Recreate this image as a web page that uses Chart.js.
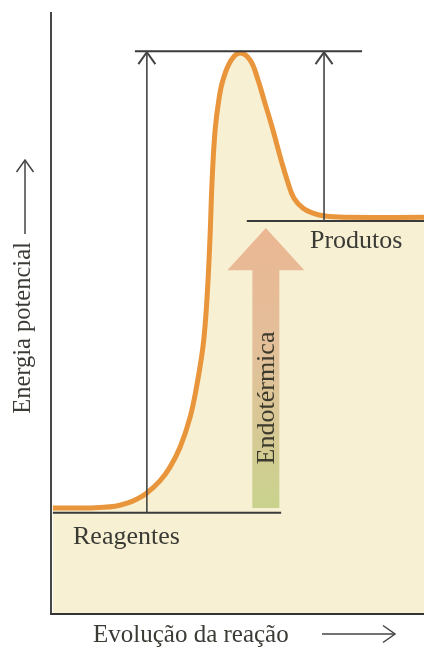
<!DOCTYPE html>
<html lang="pt">
<head>
<meta charset="utf-8">
<title>Energia potencial</title>
<script src="https://cdn.jsdelivr.net/npm/chart.js@4.4.1/dist/chart.umd.min.js"></script>
<style>
  html, body { margin: 0; padding: 0; background: #fff; }
  canvas { display: block; }
</style>
</head>
<body>
<canvas id="my-chart" width="424" height="648"></canvas>
<script>
'use strict';

// ***************** DATA ***************** //

// reaction progress (0-100) and potential energy (0-100)
let progress = [0.5, 7.8, 13.1, 17.2, 20.4, 23.1, 25.7, 29.2, 31.9, 34.6, 37.3, 39.1, 40.8, 41.8, 42.6, 43.2, 44.0, 45.0, 46.1, 48.3, 50.7, 53.4, 55.5, 57.1, 59.5, 61.7, 63.3, 65.1, 67.6, 70.2, 73.5, 78.8, 100];
let energy = [17.6, 17.6, 17.7, 17.9, 18.4, 19.1, 20.1, 22.1, 24.4, 27.7, 32.7, 38.0, 44.7, 52.2, 62.1, 72.1, 80.4, 85.4, 88.7, 92.0, 93.2, 92.0, 88.7, 85.4, 80.4, 75.4, 72.1, 69.1, 67.4, 66.6, 66.1, 65.9, 65.9];

// energy levels: reagentes, produtos, complexo ativado
let levelValues = [16.8, 65.3, 93.5];
let levelStarts = [0.5, 52.5, 22.5];
let levelEnds = [61.7, 100, 83.4];

// activation arrows (x position, from level index to level index)
let arrowX = [25.7, 73.2];
let arrowFrom = [0, 1];
let arrowTo = [2, 2];

// endothermic arrow
let endoX = 57.6;
let endoBottom = 17.6;
let endoHeadBase = 57.1;
let endoTop = 64.1;

let labels = ['Reagentes', 'Produtos', 'Endotérmica'];
let axisTitles = ['Energia potencial', 'Evolução da reação'];

// ***************** DOM REFERENCES ************** //

let ctx = document.getElementById('my-chart').getContext('2d');

// ***************** HELPERS ***************** //

const SERIF = '"Liberation Serif", "DejaVu Serif", serif';
const INK = '#3b3b36';

function chevronUp(c, px, py) {
  c.beginPath();
  c.moveTo(px - 8.5, py + 12);
  c.lineTo(px, py);
  c.lineTo(px + 8.5, py + 12);
  c.stroke();
}

function chevronRight(c, px, py) {
  c.beginPath();
  c.moveTo(px - 12, py - 8.5);
  c.lineTo(px, py);
  c.lineTo(px - 12, py + 8.5);
  c.stroke();
}

// ***************** PLUGIN ***************** //

let annotations = {
  id: 'annotations',
  afterDatasetsDraw(chart) {
    let c = chart.ctx;
    let xs = chart.scales.x;
    let ys = chart.scales.y;
    let area = chart.chartArea;

    c.save();
    c.lineCap = 'butt';

    // endothermic arrow
    let cx = xs.getPixelForValue(endoX);
    let yb = ys.getPixelForValue(endoBottom);
    let yh = ys.getPixelForValue(endoHeadBase);
    let yt = ys.getPixelForValue(endoTop);
    let grad = c.createLinearGradient(0, yt, 0, yb);
    grad.addColorStop(0, '#ebb793');
    grad.addColorStop(0.45, '#e2c09a');
    grad.addColorStop(0.75, '#d6ca94');
    grad.addColorStop(1, '#c8d38d');
    c.fillStyle = grad;
    c.beginPath();
    c.moveTo(cx - 13.5, yb);
    c.lineTo(cx - 13.5, yh);
    c.lineTo(cx - 38.5, yh);
    c.lineTo(cx, yt);
    c.lineTo(cx + 38.5, yh);
    c.lineTo(cx + 13.5, yh);
    c.lineTo(cx + 13.5, yb);
    c.closePath();
    c.fill();

    // energy level lines
    c.strokeStyle = '#3a3a3a';
    c.lineWidth = 2;
    for (let i = 0; i < levelValues.length; i++) {
      let py = ys.getPixelForValue(levelValues[i]);
      c.beginPath();
      c.moveTo(xs.getPixelForValue(levelStarts[i]), py);
      c.lineTo(xs.getPixelForValue(levelEnds[i]), py);
      c.stroke();
    }

    // activation arrows
    c.strokeStyle = '#454545';
    for (let i = 0; i < arrowX.length; i++) {
      let px = xs.getPixelForValue(arrowX[i]);
      let y0 = ys.getPixelForValue(levelValues[arrowFrom[i]]);
      let y1 = ys.getPixelForValue(levelValues[arrowTo[i]]) + 1;
      c.lineWidth = 1.6;
      c.beginPath();
      c.moveTo(px, y0);
      c.lineTo(px, y1);
      c.stroke();
      c.lineWidth = 2;
      chevronUp(c, px, y1);
    }

    // axes
    c.strokeStyle = '#333';
    c.lineWidth = 1.8;
    c.beginPath();
    c.moveTo(area.left, area.top);
    c.lineTo(area.left, area.bottom);
    c.lineTo(area.right, area.bottom);
    c.stroke();

    // labels
    c.fillStyle = INK;
    c.font = '26px ' + SERIF;
    c.textAlign = 'left';
    c.textBaseline = 'alphabetic';
    c.fillText(labels[0], 73, 544);
    c.fillText(labels[1], 310, 248);

    c.save();
    c.translate(cx + 1, 398);
    c.rotate(-Math.PI / 2);
    c.textAlign = 'center';
    c.textBaseline = 'middle';
    c.fillStyle = '#3c3a2c';
    c.fillText(labels[2], 0, 0);
    c.restore();

    // y axis title with arrow
    c.save();
    c.translate(24, 328);
    c.rotate(-Math.PI / 2);
    c.font = '24.5px ' + SERIF;
    c.textAlign = 'center';
    c.textBaseline = 'middle';
    c.fillText(axisTitles[0], 0, 0);
    c.restore();
    c.strokeStyle = '#444';
    c.lineWidth = 1.5;
    c.beginPath();
    c.moveTo(25, 234);
    c.lineTo(25, 160);
    c.stroke();
    chevronUp(c, 25, 160);

    // x axis title with arrow
    c.font = '25px ' + SERIF;
    c.textAlign = 'left';
    c.textBaseline = 'alphabetic';
    c.fillText(axisTitles[1], 93, 642);
    c.beginPath();
    c.moveTo(322, 634);
    c.lineTo(395, 634);
    c.stroke();
    chevronRight(c, 395, 634);

    c.restore();
  }
};

// ***************** CHART ***************** //

let points = [];
for (let i = 0; i < progress.length; i++) {
  points.push({ x: progress[i], y: energy[i] });
}

let myChartObj = {
  type: 'line',
  data: {
    datasets: [{
      data: points,
      borderColor: '#e9953b',
      borderWidth: 5,
      backgroundColor: '#f7f0d3',
      fill: 'origin',
      pointRadius: 0,
      tension: 0.4
    }]
  },
  options: {
    responsive: false,
    animation: false,
    layout: {
      padding: { left: 51, right: 0, top: 12, bottom: 34 }
    },
    plugins: {
      legend: { display: false },
      tooltip: { enabled: false }
    },
    scales: {
      x: { type: 'linear', min: 0, max: 100, display: false },
      y: { min: 0, max: 100, display: false }
    }
  },
  plugins: [annotations]
};

new Chart(ctx, myChartObj);
</script>
</body>
</html>
